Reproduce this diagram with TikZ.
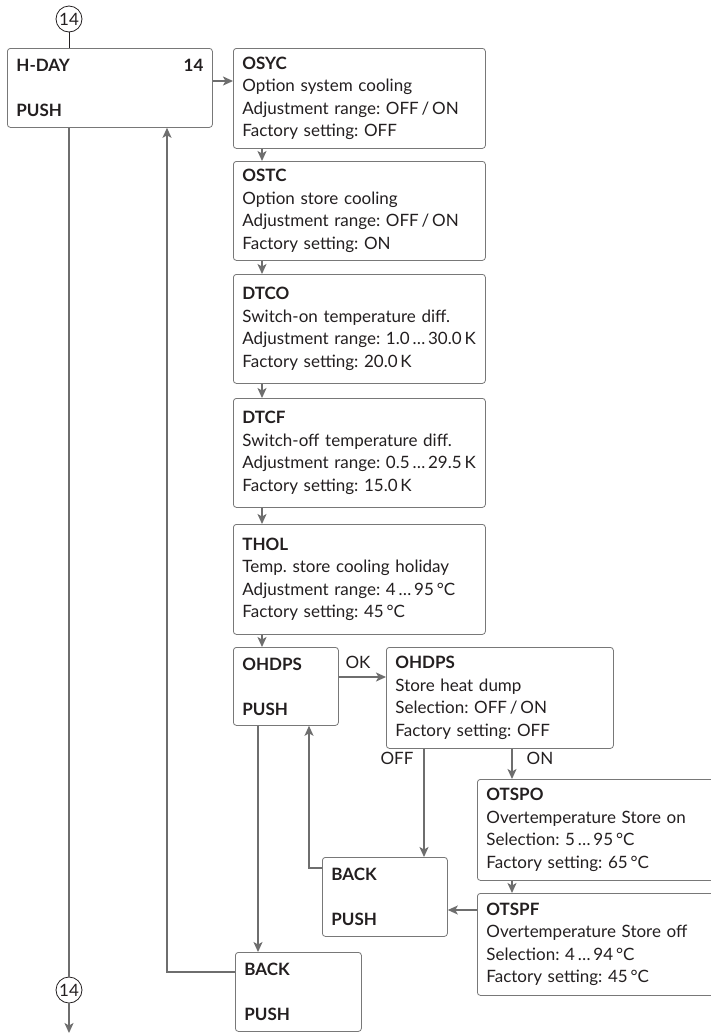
\documentclass[tikz,border=0pt]{standalone}
\usepackage{fontspec}
\setmainfont{Lato}
\frenchspacing
\usetikzlibrary{arrows.meta,calc}
\definecolor{ink}{RGB}{35,31,32}
\definecolor{boxline}{RGB}{120,120,120}
\definecolor{conline}{RGB}{110,110,110}
\begin{document}
\begin{tikzpicture}[x=1pt,y=-1pt,
  font=\fontsize{17}{22.5}\selectfont,
  box/.style={draw=boxline, line width=0.8pt, rounded corners=3pt, anchor=north west,
    align=left, inner xsep=9pt, inner ysep=0pt, text=ink},
  conn/.style={draw=conline, line width=1.5pt, -{Stealth[length=10pt,width=9pt,inset=2.5pt]}},
  plain/.style={draw=conline, line width=1.5pt},
  num/.style={circle, draw=ink, line width=0.8pt, minimum size=26pt, inner sep=0pt, text=ink},
  lbl/.style={text=ink, inner sep=0pt}]
\useasboundingbox (0,0) rectangle (711,1034);
\fill[white] (0,0) rectangle (711,1034);

\node[num] (c1) at (69,19) {14};
\node[box, text width=187pt, minimum width=205pt, minimum height=79pt] (hday) at (7,48)
  {\textbf{H-DAY}\hfill\textbf{14}\hspace*{10pt}\\[22.5pt]\textbf{PUSH}};

\node[box, text width=234pt, minimum width=252pt, minimum height=100pt] (osyc) at (233,48)
  {\textbf{OSYC}\\Option system cooling\\Adjustment~range:~OFF\,/\,ON\\Factory setting: OFF};
\node[box, text width=234pt, minimum width=252pt, minimum height=99pt] (ostc) at (233,161)
  {\textbf{OSTC}\\Option store cooling\\Adjustment~range:~OFF\,/\,ON\\Factory setting: ON};
\node[box, text width=234pt, minimum width=252pt, minimum height=109pt] (dtco) at (233,274)
  {\textbf{DTCO}\\Switch-on~temperature~diff.\\Adjustment~range:~1.0\,…\,30.0\,K\\Factory setting: 20.0\,K};
\node[box, text width=234pt, minimum width=252pt, minimum height=109pt] (dtcf) at (233,398)
  {\textbf{DTCF}\\Switch-off~temperature~diff.\\Adjustment~range:~0.5\,…\,29.5\,K\\Factory setting: 15.0\,K};
\node[box, text width=234pt, minimum width=252pt, minimum height=110pt] (thol) at (233,524)
  {\textbf{THOL}\\Temp.~store~cooling~holiday\\Adjustment~range:~4\,…\,95\,°C\\Factory setting: 45\,°C};

\node[box, text width=87pt, minimum width=105pt, minimum height=78pt] (ohdpsa) at (233,647)
  {\textbf{OHDPS}\\[22.5pt]\textbf{PUSH}};
\node[box, text width=209pt, minimum width=227pt, minimum height=101pt] (ohdpsb) at (386,647)
  {\textbf{OHDPS}\\Store heat dump\\Selection: OFF\,/\,ON\\Factory setting: OFF};

\node[box, text width=232pt, minimum width=250pt, minimum height=101pt] (otspo) at (477,779)
  {\textbf{OTSPO}\\Overtemperature Store on\\Selection: 5\,…\,95\,°C\\Factory setting: 65\,°C};
\node[box, text width=232pt, minimum width=250pt, minimum height=102pt] (otspf) at (477,893)
  {\textbf{OTSPF}\\Overtemperature Store off\\Selection: 4\,…\,94\,°C\\Factory setting: 45\,°C};

\node[box, text width=107pt, minimum width=125pt, minimum height=79pt] (backm) at (322,857)
  {\textbf{BACK}\\[22.5pt]\textbf{PUSH}};
\node[box, text width=108pt, minimum width=126pt, minimum height=79pt] (backb) at (235,952)
  {\textbf{BACK}\\[22.5pt]\textbf{PUSH}};

\node[num] (c2) at (69,990) {14};
\coordinate (endpt) at (69,1033);

\node[lbl] (ok) at (358,662) {OK};
\node[lbl] (off) at (397,758) {OFF};
\node[lbl] (on) at (540,758) {ON};

% connectors
\draw[draw=ink, line width=0.8pt] (c1.south) -- (c1 |- hday.north);
\draw[conn] ([yshift=-33pt]hday.north east) -- ([yshift=-33pt]osyc.north west);
\draw[conn] ([xshift=29pt]osyc.south west) -- ([xshift=29pt]ostc.north west);
\draw[conn] ([xshift=29pt]ostc.south west) -- ([xshift=29pt]dtco.north west);
\draw[conn] ([xshift=29pt]dtco.south west) -- ([xshift=29pt]dtcf.north west);
\draw[conn] ([xshift=29pt]dtcf.south west) -- ([xshift=29pt]thol.north west);
\draw[conn] ([xshift=29pt]thol.south west) -- ([xshift=29pt]ohdpsa.north west);
\draw[conn] ([yshift=-30pt]ohdpsa.north east) -- ([yshift=-30pt]ohdpsb.north west);
\draw[conn] ([xshift=38pt]ohdpsb.south west) -- ([xshift=102pt]backm.north west);
\draw[conn] ([xshift=126pt]ohdpsb.south west) -- ([xshift=35pt]otspo.north west);
\draw[conn] ([xshift=35pt]otspo.south west) -- ([xshift=35pt]otspf.north west);
\draw[conn] ([yshift=-17pt]otspf.north west) -- ([yshift=-53pt]backm.north east);
\draw[conn] ([yshift=-11pt]backm.north west) -| ([xshift=76pt]ohdpsa.south west);
\draw[conn] ([xshift=25pt]ohdpsa.south west) -- ([xshift=23pt]backb.north west);
\draw[conn] ([yshift=-20pt]backb.north west) -| ([xshift=160pt]hday.south west);
\draw[plain] ([xshift=62pt]hday.south west) -- (c2.north);
\draw[conn] (c2.south) -- (endpt);
\end{tikzpicture}
\end{document}
